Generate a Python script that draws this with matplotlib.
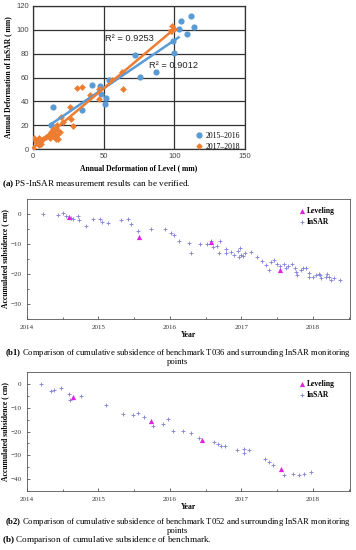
import numpy as np
import matplotlib
matplotlib.use("Agg")
import matplotlib.pyplot as plt
from matplotlib.lines import Line2D

W, H = 356, 550

# ---------------- panel (a): annual deformation, level vs InSAR ----------------
blue_x = [14, 13, 34.5, 41.5, 47.6, 48, 52, 50.7, 54, 72, 75.6, 87, 99, 99.5, 103, 104.5, 109, 112, 114]
blue_y = [35, 20, 33, 54, 53, 46, 43, 38, 58, 78.6, 60.6, 65, 90.7, 80.6, 101, 107, 96.6, 111.5, 102.5]

orange_x = [0, 0.7, 2, 3, 4, 5, 6, 4, 7, 9, 11, 12, 13, 14, 15, 15, 16, 17, 17, 18,
            16, 18, 19, 14, 12, 20, 21, 26, 27, 28, 31, 34.5, 40, 47, 47, 56, 63, 64, 98.6, 99.8]
orange_y = [0.5, 9, 7, 5, 9, 6, 4, 3, 8, 10, 12, 9, 14, 11, 16, 13, 18, 12, 20, 15,
            8, 8, 14, 17, 13, 27, 23, 35, 25, 19, 51, 52, 45, 41.7, 50, 58, 64.5, 50, 103, 100.5]

r2_labels = ["R² = 0.9253", "R² = 0.9012"]
legend_a = ["2015–2016", "2017–2018"]

# ---------------- panel (b1): benchmark T036 ----------------
b1_insar_t = [2014.23, 2014.43, 2014.51, 2014.55, 2014.62, 2014.65, 2014.72, 2014.73, 2014.83, 2014.92,
              2015.02, 2015.05, 2015.14, 2015.31, 2015.42, 2015.45, 2015.55, 2015.74, 2015.93, 2016.01,
              2016.06, 2016.13, 2016.26, 2016.30, 2016.42, 2016.52, 2016.57, 2016.60, 2016.66, 2016.70,
              2016.69, 2016.78, 2016.79, 2016.85, 2016.90, 2016.95, 2016.96, 2016.98, 2017.00, 2017.02,
              2017.05, 2017.14, 2017.22, 2017.29, 2017.34, 2017.38, 2017.42, 2017.46, 2017.50, 2017.54,
              2017.59, 2017.62, 2017.65, 2017.71, 2017.75, 2017.76, 2017.78, 2017.83, 2017.86, 2017.90,
              2017.94, 2017.95, 2018.00, 2018.04, 2018.08, 2018.10, 2018.12, 2018.18, 2018.20, 2018.23,
              2018.25, 2018.29, 2018.38]
b1_insar_v = [-0.1, -0.2, 0.4, -0.8, -1.2, -1.7, -0.7, -2.0, -3.9, -1.6,
              -1.6, -2.6, -2.9, -2.0, -1.8, -3.2, -5.6, -5.1, -5.1, -6.2,
              -6.9, -8.9, -9.7, -12.9, -10.0, -10.1, -9.1, -11.1, -10.6, -8.9,
              -12.9, -13.0, -11.7, -12.8, -13.7, -12.4, -14.3, -11.2, -13.7, -14.1,
              -13.0, -12.6, -14.2, -15.8, -17.0, -18.6, -15.9, -15.4, -16.6, -17.4,
              -16.6, -17.9, -17.4, -16.8, -18.0, -19.3, -20.4, -18.6, -18.1, -18.1,
              -19.8, -21.0, -21.0, -20.4, -19.9, -20.3, -21.2, -20.9, -20.1, -21.0,
              -22.0, -21.4, -22.1]
b1_level_t = [2014.59, 2015.57, 2016.58, 2017.54]
b1_level_v = [-1.0, -7.7, -9.4, -18.8]

# ---------------- panel (b2): benchmark T052 ----------------
b2_insar_t = [2014.20, 2014.33, 2014.38, 2014.48, 2014.59, 2014.60, 2014.75, 2015.10, 2015.35, 2015.48,
              2015.55, 2015.64, 2015.76, 2015.91, 2015.98, 2016.04, 2016.19, 2016.30, 2016.40, 2016.62,
              2016.67, 2016.71, 2016.77, 2016.94, 2017.03, 2017.03, 2017.11, 2017.33, 2017.39, 2017.44,
              2017.59, 2017.72, 2017.80, 2017.87, 2017.98]
b2_insar_v = [0.0, -2.8, -2.6, -1.7, -4.2, -6.7, -5.0, -8.75, -12.5, -13.2,
              -12.1, -14.0, -17.6, -16.8, -14.7, -19.6, -19.6, -20.7, -22.8, -24.6,
              -25.3, -26.25, -26.0, -27.6, -27.2, -29.0, -27.6, -31.5, -32.8, -34.2,
              -38.1, -37.8, -38.1, -37.8, -37.0]
b2_level_t = [2014.65, 2015.74, 2016.45, 2017.55]
b2_level_v = [-5.6, -15.4, -23.75, -35.6]

years = [2014, 2015, 2016, 2017, 2018]

SERIF = "Liberation Serif"
SANS = "Liberation Sans"
BLUE = "#5b9bd5"
ORANGE = "#ed7d31"
PURPLE = "#8080d8"
MAGENTA = "#e020e0"

# bold caption tags via mathtext, same serif face
plt.rcParams["mathtext.fontset"] = "custom"
plt.rcParams["mathtext.rm"] = SERIF
plt.rcParams["mathtext.bf"] = SERIF + ":bold"


def box(l, t, r, b):
    # pixel box -> figure fraction rect
    return [l / W, 1 - b / H, (r - l) / W, (b - t) / H]


fig = plt.figure(figsize=(W / 100, H / 100), dpi=100)

# ---------------------------
# (a) scatter + trend lines
# ---------------------------
ax = fig.add_axes(box(33, 6, 245, 149))
ax.set_xlim(0, 150)
ax.set_ylim(0, 120)
ax.set_xticks([0, 50, 100, 150])
ax.set_yticks(range(0, 121, 20))
ax.grid(True, color="#333333", lw=0.9)
ax.set_axisbelow(True)
for s in ax.spines.values():
    s.set_color("#333333")
    s.set_linewidth(0.9)
ax.tick_params(length=0, labelsize=5.5, colors="#444444", pad=3)
for lab in ax.get_xticklabels() + ax.get_yticklabels():
    lab.set_family(SANS)

ax.scatter(blue_x, blue_y, s=20, color=BLUE, zorder=3, linewidths=0)
ax.scatter(orange_x, orange_y, s=12, marker="D", color=ORANGE, zorder=3, linewidths=0)

kb = np.polyfit(blue_x, blue_y, 1)
xb = np.array([min(blue_x), 103])
ax.plot(xb, np.polyval(kb, xb), color=BLUE, lw=1.8, zorder=4)
ko = np.polyfit(orange_x, orange_y, 1)
xo = np.array([min(orange_x), 101])
yo = np.polyval(ko, xo)
ax.annotate("", xy=(xo[1], yo[1]), xytext=(xo[0], yo[0]),
            arrowprops=dict(arrowstyle="-|>", color=ORANGE, lw=1.8, mutation_scale=7,
                            shrinkA=0, shrinkB=0), zorder=4)

ax.text(51, 93, r2_labels[0], fontsize=6.7, family=SANS, color="#222222", va="center")
ax.text(82, 70, r2_labels[1], fontsize=6.7, family=SANS, color="#222222", va="center")

ax.set_xlabel("Annual Deformation of Level ( mm)", family=SERIF, fontweight="bold",
              fontsize=5.5, labelpad=3)
ax.set_ylabel("Annual Deformation of InSAR ( mm)", family=SERIF, fontweight="bold",
              fontsize=5.5, labelpad=3)
handles = [Line2D([], [], marker="o", ls="", color=BLUE, ms=3.5),
           Line2D([], [], marker="D", ls="", color=ORANGE, ms=2.5)]
ax.legend(handles, legend_a, loc="lower right", bbox_to_anchor=(1.0, -0.05), frameon=False,
          prop={"family": SERIF, "size": 5.5},
          handletextpad=0.3, borderaxespad=0.3, labelspacing=0.35, handlelength=1.0)


# ---------------------------
# (b1), (b2) subsidence time series
# ---------------------------
def subsidence(rect, ins_t, ins_v, lev_t, lev_v, ylim, yticks):
    a = fig.add_axes(rect)
    a.scatter(ins_t, ins_v, marker="+", s=10, color=PURPLE, linewidths=0.6, label="InSAR", zorder=3)
    a.scatter(lev_t, lev_v, marker="^", s=14, color=MAGENTA, linewidths=0, label="Leveling", zorder=4)
    a.set_xlim(2014, 2018.52)
    a.set_ylim(*ylim)
    a.set_xticks(years)
    a.set_xticks(np.array(years) + 0.5, minor=True)
    a.set_yticks(yticks)
    a.set_yticks(np.array(yticks) - 5, minor=True)
    a.tick_params(which="both", direction="in", labelsize=5, pad=4, colors="#333333")
    a.tick_params(which="major", length=2.5, width=0.5)
    a.tick_params(which="minor", length=1.5, width=0.5)
    for s in a.spines.values():
        s.set_linewidth(0.6)
        s.set_color("#555555")
    for lab in a.get_xticklabels() + a.get_yticklabels():
        lab.set_family(SERIF)
    a.set_xlabel("Year", family=SERIF, fontweight="bold", fontsize=5.5, labelpad=1)
    a.set_ylabel("Accumulated subsidence ( cm)", family=SERIF, fontweight="bold", fontsize=5.5, labelpad=1)
    h, l = a.get_legend_handles_labels()
    a.legend(h[::-1], l[::-1], loc="upper right", bbox_to_anchor=(0.97, 0.98), frameon=False,
             prop={"family": SERIF, "size": 5.5, "weight": "bold"},
             handletextpad=0.2, borderaxespad=0.3, labelspacing=0.4, handlelength=1.0)
    return a


subsidence(box(27, 199, 350, 319), b1_insar_t, b1_insar_v, b1_level_t, b1_level_v,
           (-35, 5), [0, -10, -20, -30])
subsidence(box(27, 372, 350, 491), b2_insar_t, b2_insar_v, b2_level_t, b2_level_v,
           (-45, 5), [0, -10, -20, -30, -40])

# ---------------------------
# captions
# ---------------------------
def caption(x, y, s, size, ha="left"):
    fig.text(x / W, 1 - y / H, s, family=SERIF, fontsize=size, ha=ha, va="top",
             multialignment="center", linespacing=0.8)


caption(2, 178, r"$\mathbf{(a)}$ PS-InSAR measurement results can be verified.", 6.6)
caption(178, 347, r"$\mathbf{(b1)}$ Comparison of cumulative subsidence of benchmark T036 and surrounding InSAR monitoring"
        "\npoints", 6.2, ha="center")
caption(178, 516, r"$\mathbf{(b2)}$ Comparison of cumulative subsidence of benchmark T052 and surrounding InSAR monitoring"
        "\npoints", 6.2, ha="center")
caption(2, 534.5, r"$\mathbf{(b)}$ Comparison of cumulative subsidence of benchmark.", 6.6)

fig.savefig("out.png", dpi=100)
